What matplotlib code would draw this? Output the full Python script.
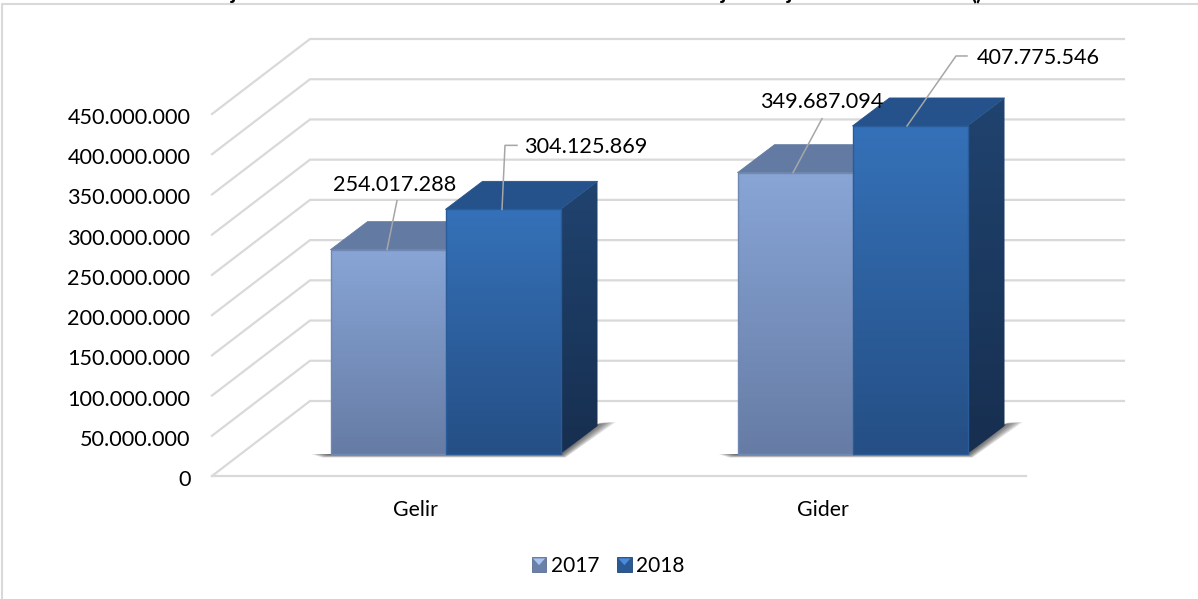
import numpy as np
import matplotlib
matplotlib.use("Agg")
import matplotlib.pyplot as plt
from matplotlib.colors import LinearSegmentedColormap
from matplotlib.legend_handler import HandlerBase
from matplotlib.patches import Patch, Polygon, Rectangle
from matplotlib.transforms import ScaledTranslation

categories = ["Gelir", "Gider"]
series_names = ["2017", "2018"]
values_2017 = [254017288, 349687094]
values_2018 = [304125869, 407775546]
y_ticks = [0, 50000000, 100000000, 150000000, 200000000, 250000000,
           300000000, 350000000, 400000000, 450000000]

W, H = 1198, 599
plt.rcParams['font.family'] = ['Lato', 'DejaVu Sans']
FS = 15.6
GRID = "#D9D9D9"
LEAD = "#A6A6A6"

fig = plt.figure(figsize=(W / 100, H / 100), dpi=100)
L, R, B, T = 212, 1026, 476, 114
ax = fig.add_axes([L / W, 1 - B / H, (R - L) / W, (B - T) / H])
ax.set_xlim(0, len(categories))
ax.set_ylim(0, y_ticks[-1])
ax.patch.set_visible(False)
for s in ax.spines.values():
    s.set_visible(False)

px_x = len(categories) / (R - L)
px_y = y_ticks[-1] / (B - T)


def off(x, y, dx, dy):
    return x + dx * px_x, y + dy * px_y


# frame of the chart area
fig.add_artist(plt.Line2D([2 / W, 2 / W, 1], [0, 1 - 4 / H, 1 - 4 / H],
                          color=GRID, lw=1.5, transform=fig.transFigure))

# clipped title fragments above the chart
for px, txt in [(233, "j"), (724, "j"), (790, "j"), (976, "()")]:
    fig.text(px / W, 1 + 1 / H, txt, ha="center", va="baseline", fontsize=15.6,
             fontweight="bold", color="black")

# pseudo-3D walls
WX, WY = 98, 75
for v in y_ticks:
    x1, y1 = off(0, v, WX, WY)
    x2, y2 = off(len(categories), v, WX, WY)
    ax.plot([0, x1, x2], [v, y1, y2], color=GRID, lw=1.6, clip_on=False,
            zorder=1, solid_joinstyle="miter")
ax.plot([0, len(categories)], [0, 0], color=GRID, lw=1.6, clip_on=False, zorder=1)


def gradient(poly_pts, top, bottom, z):
    xs = [p[0] for p in poly_pts]
    ys = [p[1] for p in poly_pts]
    cmap = LinearSegmentedColormap.from_list("g", [bottom, top])
    im = ax.imshow(np.linspace(1, 0, 64).reshape(-1, 1), cmap=cmap, vmin=0, vmax=1,
                   extent=(min(xs), max(xs), min(ys), max(ys)), aspect="auto",
                   origin="upper", zorder=z, interpolation="bilinear")
    poly = Polygon(poly_pts, closed=True, transform=ax.transData, fc="none", ec="none")
    ax.add_patch(poly)
    im.set_clip_box(fig.bbox)
    im.set_clip_path(poly)
    ax.set_xlim(0, len(categories))
    ax.set_ylim(0, y_ticks[-1])


BAR_W = 115 * px_x
FX, FY = 30, 22      # bar offset from the front of the floor
DX, DY = 37, 28      # bar depth

styles = {
    "2017": dict(front=("#88A5D6", "#667CA5"), side=("#5C7399", "#44577A"),
                 topc="#637BA3", edge="#6F88B4"),
    "2018": dict(front=("#3571B8", "#254F85"), side=("#20436F", "#172F50"),
                 topc="#25528A", edge="#2A5C9A"),
}


def bar(i, v, name, side_sign, z):
    st = styles[name]
    c = i + 0.5
    x0 = c + (0 if side_sign > 0 else -BAR_W)
    x1 = x0 + BAR_W
    ax0, ay0 = off(x0, 0, FX, FY)
    ax1, ay1 = off(x1, v, FX, FY)
    ddx, ddy = DX * px_x, DY * px_y
    gradient([(ax1, ay0), (ax1 + ddx, ay0 + ddy), (ax1 + ddx, ay1 + ddy), (ax1, ay1)],
             st["side"][0], st["side"][1], z)
    ax.add_patch(Polygon([(ax0, ay1), (ax1, ay1), (ax1 + ddx, ay1 + ddy), (ax0 + ddx, ay1 + ddy)],
                         closed=True, fc=st["topc"], ec=st["topc"], lw=0.6,
                         clip_on=False, zorder=z, joinstyle="round"))
    gradient([(ax0, ay0), (ax1, ay0), (ax1, ay1), (ax0, ay1)],
             st["front"][0], st["front"][1], z + 0.1)
    ax.add_patch(Rectangle((ax0, ay0), ax1 - ax0, ay1 - ay0, fc="none", ec=st["edge"],
                           lw=1.0, clip_on=False, zorder=z + 0.2, joinstyle="round"))


def shadow(i, z):
    c = i + 0.5
    x0 = c - BAR_W
    x1 = c + BAR_W
    ax0, ay0 = off(x0, 0, FX, FY)
    ax1, _ = off(x1, 0, FX, FY)
    for k in np.linspace(1, 0.15, 7):
        pts = [off(ax0, ay0, -19 * k, 0),
               off(ax0, ay0, 0, 2.5 * k + 1),
               off(ax0, ay0, -8 * k, -3.5 * k),
               off(ax1, ay0, 5 * k, -3.5 * k),
               off(ax1, ay0, DX + 18 * k, DY + 4),
               off(ax1, ay0, DX, DY + 2),
               off(ax1, ay0, 0, 0),
               off(ax0, ay0, 0, 0)]
        pts = [pts[i] for i in (0, 2, 3, 4, 5, 6, 7)]
        ax.add_patch(Polygon(pts, closed=True, fc="#303030", ec="none", alpha=0.16,
                             clip_on=False, zorder=z))


for i in range(len(categories)):
    shadow(i, 2)
    bar(i, values_2017[i], "2017", -1, 3)
    bar(i, values_2018[i], "2018", 1, 4)

# data labels with leader lines (offsets in pixels from the bar's top-front edge)
leaders = [
    (0, values_2017[0], -1, [(-1, 0), (9, 49)], (7, 65), "center"),
    (0, values_2018[0], 1, [(-1, 0), (2, 64), (14, 64)], (21, 62.5), "left"),
    (1, values_2017[1], -1, [(-2, 0), (27, 54)], (27, 70.5), "center"),
    (1, values_2018[1], 1, [(-3, 0), (46, 70), (57, 70)], (67, 67.5), "left"),
]
for i, v, sgn, pts, tpos, ha in leaders:
    bx = i + 0.5 + sgn * BAR_W / 2
    ax_, ay_ = off(bx, v, FX, FY)
    xs, ys = zip(*[off(ax_, ay_, a, b) for a, b in pts])
    ax.plot(xs, ys, color=LEAD, lw=1.1, clip_on=False, zorder=6)
    tx, ty = off(ax_, ay_, *tpos)
    ax.text(tx, ty, f"{v:,}".replace(",", "."), ha=ha, va="center", fontsize=FS,
            color="black", zorder=7, clip_on=False)

# axes text
ax.set_yticks(y_ticks)
ax.set_yticklabels([f"{v:,}".replace(",", ".") for v in y_ticks], fontsize=FS, color="black")
ax.set_xticks([i + 0.5 for i in range(len(categories))])
ax.set_xticklabels(categories, fontsize=FS - 0.3, color="black")
ax.tick_params(axis="y", length=0, pad=15.5)
ax.tick_params(axis="x", length=0, pad=17)
shift = ScaledTranslation(0, -2 / 100, fig.dpi_scale_trans)
for lab in ax.get_yticklabels():
    lab.set_transform(lab.get_transform() + shift)


class Swatch(HandlerBase):
    def create_artists(self, legend, orig, x, y, w, h, fs, trans):
        s = min(w, h)
        x0 = x + (w - s) / 2
        y0 = y + (h - s) / 2
        base = Rectangle((x0, y0), s, s, fc=orig.get_facecolor(), ec=orig.get_edgecolor(),
                         lw=0.6, transform=trans)
        light = "#A9C4F0" if orig.get_label() == series_names[0] else "#4F8AD8"
        tri = Polygon([(x0 + 1, y0 + s - 1), (x0 + s - 1, y0 + s - 1), (x0 + s / 2, y0 + s * 0.45)],
                      closed=True, fc=light, ec="none", transform=trans)
        return [base, tri]


handles = [Patch(fc="#6A80A8", ec="#5A6F95", label=series_names[0]),
           Patch(fc="#2A5A96", ec="#1F4677", label=series_names[1])]
ax.legend(handles=handles, loc="center", bbox_to_anchor=(608 / W, 1 - 566 / H),
          bbox_transform=fig.transFigure, ncol=2, frameon=False, fontsize=FS - 0.6,
          handler_map={Patch: Swatch()}, handlelength=0.72, handleheight=0.72,
          handletextpad=0.2, columnspacing=0.85, borderpad=0)

fig.savefig("out.png", dpi=100)
